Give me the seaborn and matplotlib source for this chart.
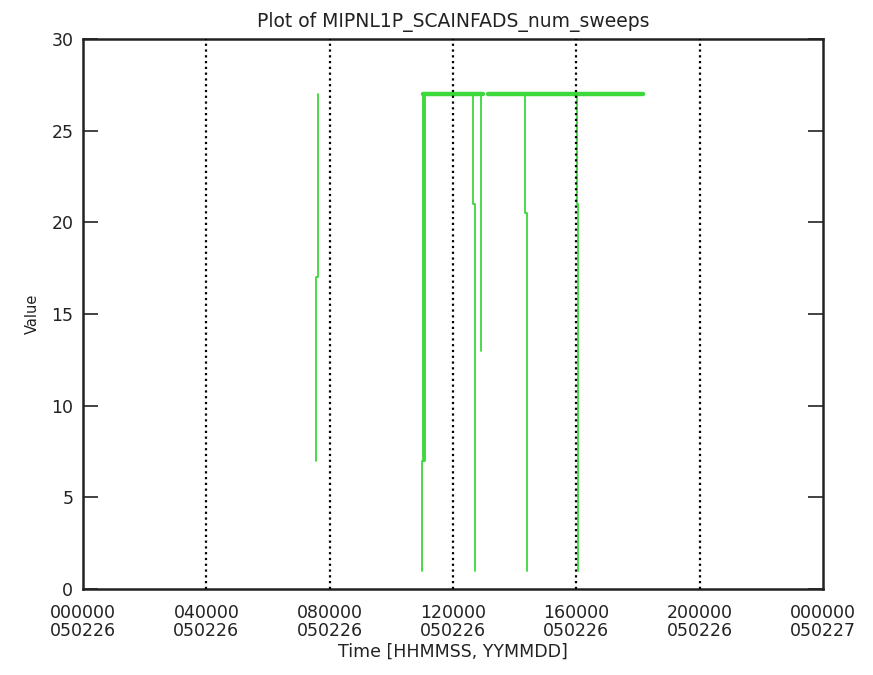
import pandas as pd
import matplotlib
matplotlib.use("Agg")
import matplotlib.pyplot as plt
import seaborn as sns

# time in hours of day 050226, values of num_sweeps
seg_1_t = [7.55, 7.55, 7.62, 7.62]
seg_1_v = [7, 17, 17, 27]
seg_2_t = [11.00, 11.00, 11.02, 11.02, 11.03, 11.03, 11.06, 11.06, 11.08, 11.08, 12.66, 12.66, 12.70, 12.70, 12.70]
seg_2_v = [1, 7, 7, 17, 17, 27, 27, 7, 7, 27, 27, 21, 21, 15, 1]
seg_3_t = [12.70, 12.92, 12.92]
seg_3_v = [27, 27, 13]
seg_4_t = [13.15, 14.33, 14.33, 14.39, 14.39, 14.39]
seg_4_v = [27, 27, 20.5, 20.5, 14, 1]
seg_5_t = [14.39, 16.01, 16.01, 16.06, 16.06]
seg_5_v = [27, 27, 21, 21, 1]
seg_6_t = [16.06, 18.17]
seg_6_v = [27, 27]

# stretches where the line sits at 27 (drawn heavier, as in the original)
plateau_start = [11.03, 13.15]
plateau_end = [12.98, 18.17]
plateau_level = 27

xtick_hours = [0, 4, 8, 12, 16, 20, 24]
xtick_labels = ["000000\n050226", "040000\n050226", "080000\n050226", "120000\n050226",
                "160000\n050226", "200000\n050226", "000000\n050227"]
ytick_vals = [0, 5, 10, 15, 20, 25, 30]

rows = []
segs = [(seg_1_t, seg_1_v), (seg_2_t, seg_2_v), (seg_3_t, seg_3_v),
        (seg_4_t, seg_4_v), (seg_5_t, seg_5_v), (seg_6_t, seg_6_v)]
for i, (ts, vs) in enumerate(segs):
    for t, v in zip(ts, vs):
        rows.append({"t": t, "v": v, "seg": i})
df = pd.DataFrame(rows)

prow = []
for i, (a, b) in enumerate(zip(plateau_start, plateau_end)):
    prow.append({"t": a, "v": plateau_level, "seg": i})
    prow.append({"t": b, "v": plateau_level, "seg": i})
pdf = pd.DataFrame(prow)

sns.set_style("white")
plt.rcParams["font.family"] = ["DejaVu Sans"]

fig = plt.figure(figsize=(8.73, 6.75), dpi=100)
ax = fig.add_axes([83 / 873, 1 - 589 / 675, 740 / 873, 550 / 675])

green = "#3cd83c"
sns.lineplot(data=df, x="t", y="v", units="seg", estimator=None, sort=False,
             color=green, lw=1.3, ax=ax, legend=False)
sns.lineplot(data=pdf, x="t", y="v", units="seg", estimator=None, sort=False,
             color=green, lw=3.2, ax=ax, legend=False)

for h in xtick_hours[1:-1]:
    ax.axvline(h, color="black", lw=1.6, ls=(0, (1, 1.6)), zorder=3)

ax.set_xlim(0, 24)
ax.set_ylim(0, 30)
ax.set_xticks(xtick_hours)
ax.set_xticklabels(xtick_labels, fontsize=12.5, linespacing=0.95)
ax.set_yticks(ytick_vals)
ax.set_yticklabels([str(v) for v in ytick_vals], fontsize=12.5)
ax.tick_params(axis="x", length=0, pad=11, colors="#222222")
ax.tick_params(axis="y", direction="in", length=11, width=1.2, pad=7,
               right=True, left=True, colors="#222222")

for s in ax.spines.values():
    s.set_visible(True)
    s.set_color("#222222")
    s.set_linewidth(1.8)

ax.set_xlabel("Time [HHMMSS, YYMMDD]", fontsize=12.5, labelpad=2, color="#222222")
ax.set_ylabel("Value", fontsize=10.5, labelpad=8, color="#222222")
ax.set_title("Plot of MIPNL1P_SCAINFADS_num_sweeps", fontsize=13.5, pad=9, color="#222222")

fig.savefig("out.png", dpi=100)
